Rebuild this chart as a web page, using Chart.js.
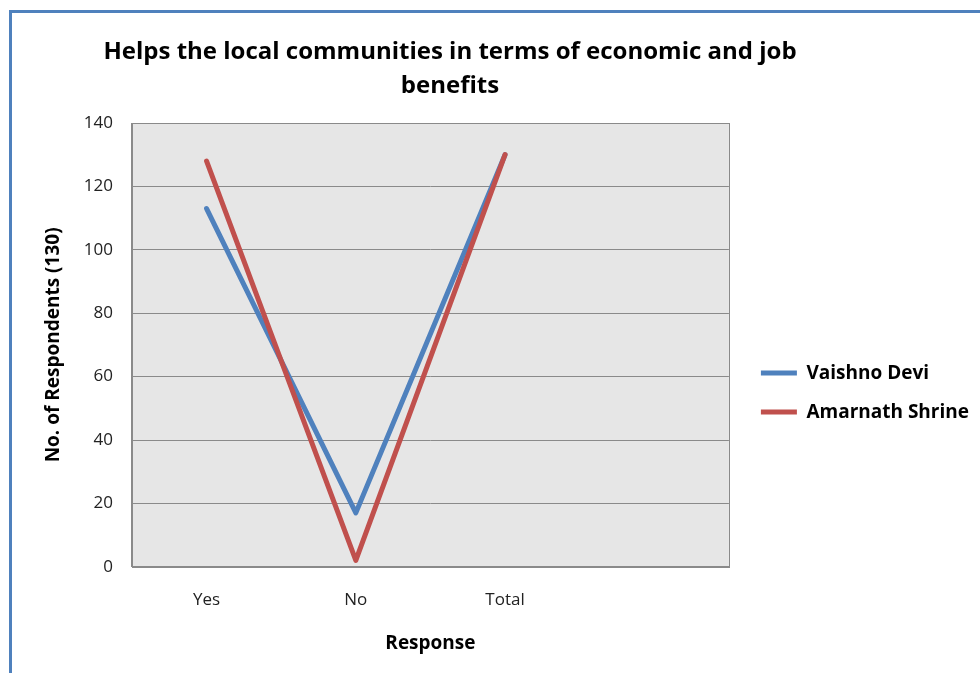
<!DOCTYPE html>
<html>
<head>
<meta charset="utf-8">
<script src="https://cdn.jsdelivr.net/npm/chart.js@4.4.1/dist/chart.umd.min.js"></script>
<style>
	html, body { margin: 0; padding: 0; background: #fff; }
	body { position: relative; width: 980px; height: 673px; overflow: hidden; }
	#frame { position: absolute; left: 9px; top: 10px; width: 1000px; height: 700px; border: 3px solid #4f81bd; }
	#wrap { position: absolute; left: 0; top: 0; width: 980px; height: 673px; }
</style>
</head>
<body>
<div id="frame"></div>
<div id="wrap"><canvas id="myChart"></canvas></div>
<script>
const categories = ['Yes', 'No', 'Total', '']
const vaishnoDevi = [113, 17, 130, null]
const amarnathShrine = [128, 2, 130, null]
const seriesNames = ['Vaishno Devi', 'Amarnath Shrine']
const titleLines = ['Helps the local communities in terms of economic and job', 'benefits']
const yMin = 0
const yMax = 140
const yStep = 20

const gridGray = '#8a8a8a'
const fontFamily = "'Open Sans'"

// plot background + box around the chart area
const plotBox = {
	id: 'plotBox',
	beforeDraw(chart) {
		const { ctx, chartArea: a } = chart
		ctx.save()
		ctx.fillStyle = '#e6e6e6'
		ctx.fillRect(a.left, a.top, a.right - a.left, a.bottom - a.top)
		ctx.restore()
	},
	beforeDatasetsDraw(chart) {
		const { ctx, chartArea: a } = chart
		ctx.save()
		ctx.strokeStyle = gridGray
		ctx.lineWidth = 1
		ctx.strokeRect(Math.round(a.left) + 0.5, Math.round(a.top) + 0.5, Math.round(a.right - a.left), Math.round(a.bottom - a.top))
		ctx.restore()
	},
}

// title centred a bit right of the plot, like the original
const titleText = {
	id: 'titleText',
	afterDraw(chart) {
		const ctx = chart.ctx
		ctx.save()
		ctx.font = 'bold 24px ' + fontFamily
		ctx.fillStyle = '#000'
		ctx.textAlign = 'center'
		ctx.textBaseline = 'alphabetic'
		ctx.fillText(titleLines[0], 450, 59)
		ctx.fillText(titleLines[1], 450, 93)
		ctx.restore()
	},
}

var ctx = document.getElementById('myChart').getContext('2d')
var myChart = new Chart(ctx, {
	type: 'line',
	data: {
		labels: categories,
		datasets: [
			{
				label: seriesNames[0],
				data: vaishnoDevi,
				borderColor: '#4f81bd',
				backgroundColor: '#4f81bd',
				borderWidth: 5,
				pointRadius: 0,
				borderCapStyle: 'round',
				borderJoinStyle: 'round',
				order: 1,
			},
			{
				label: seriesNames[1],
				data: amarnathShrine,
				borderColor: '#c0504d',
				backgroundColor: '#c0504d',
				borderWidth: 5,
				pointRadius: 0,
				borderCapStyle: 'round',
				borderJoinStyle: 'round',
				order: 0,
			},
		],
	},
	options: {
		responsive: true,
		maintainAspectRatio: false,
		animation: false,
		layout: {
			padding: { top: 123, left: 42, right: 1, bottom: 18 },
		},
		scales: {
			x: {
				offset: true,
				grid: { display: false, drawTicks: false },
				border: { display: true, color: gridGray },
				ticks: { color: '#222', font: { family: fontFamily, size: 17 }, padding: 23, maxRotation: 0 },
				title: {
					display: true,
					text: 'Response',
					color: '#000',
					font: { family: fontFamily, size: 19, weight: 'bold' },
					padding: { top: -1, bottom: 0 },
				},
			},
			y: {
				min: yMin,
				max: yMax,
				ticks: { stepSize: yStep, color: '#222', font: { family: fontFamily, size: 17 }, padding: 19 },
				grid: { color: gridGray, drawTicks: false },
				border: { display: true, color: gridGray },
				title: {
					display: true,
					text: 'No. of Respondents (130)',
					color: '#000',
					font: { family: fontFamily, size: 19, weight: 'bold' },
					padding: 0,
				},
			},
			// empty spacer between plot and legend
			gap: {
				type: 'linear',
				position: 'right',
				display: true,
				grid: { display: false },
				border: { display: false },
				ticks: { display: false },
				afterFit(scale) {
					scale.width = 12
				},
			},
		},
		plugins: {
			legend: {
				position: 'right',
				maxWidth: 320,
				title: { display: true, text: '', font: { size: 6 }, padding: 0 },
				labels: {
					usePointStyle: true,
					pointStyle: 'line',
					pointStyleWidth: 36,
					padding: 20,
					color: '#000',
					font: { family: fontFamily, size: 19, weight: 'bold' },
					sort: (a, b) => a.datasetIndex - b.datasetIndex,
				},
			},
			title: { display: false },
			tooltip: { enabled: false },
		},
	},
	plugins: [plotBox, titleText],
})
</script>
</body>
</html>
